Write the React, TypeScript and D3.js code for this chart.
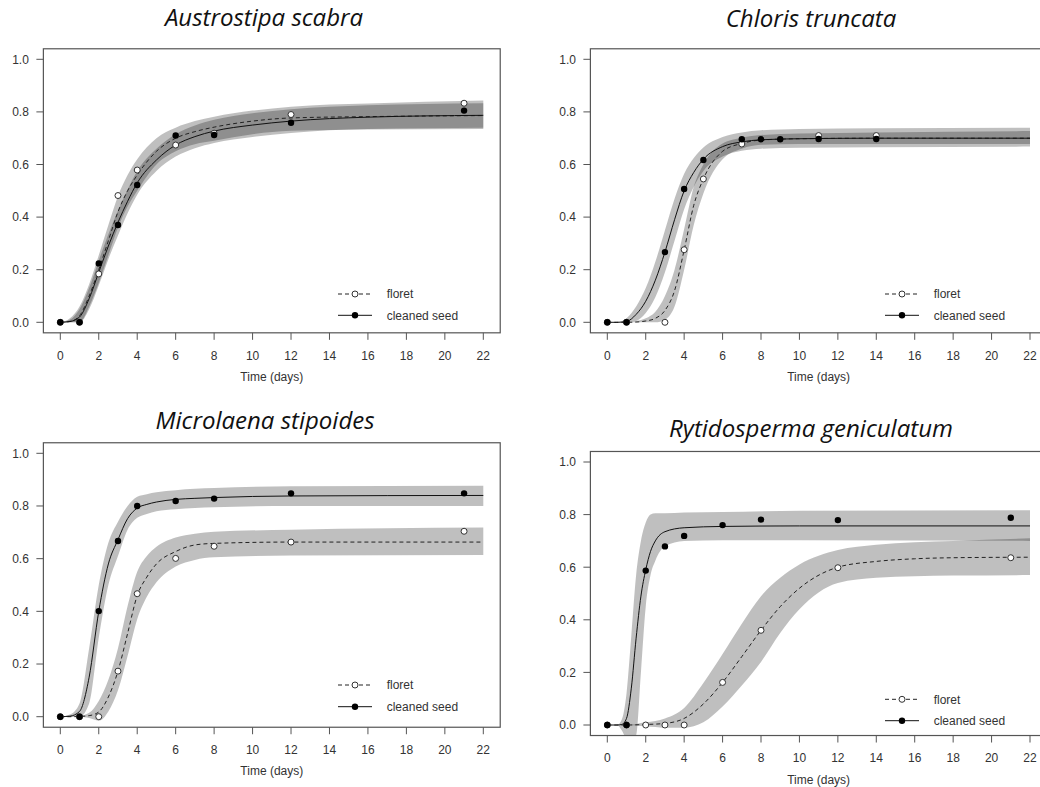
import * as d3 from 'd3';

const xTicks = [0, 2, 4, 6, 8, 10, 12, 14, 16, 18, 20, 22];
const yTicks = [0, 0.2, 0.4, 0.6, 0.8, 1.0];
const legendLabels = ['floret', 'cleaned seed'];

// Austrostipa scabra
const asObsDays = [0, 1, 2, 3, 4, 6, 8, 12, 21];
const asFloret = [0, 0, 0.184, 0.482, 0.579, 0.674, 0.719, 0.79, 0.833];
const asSeed = [0, 0, 0.224, 0.37, 0.522, 0.71, 0.712, 0.759, 0.805];
const asFitDays = [0, 0.5, 1, 1.5, 2, 2.5, 3, 3.5, 4, 5, 6, 7, 8, 10, 12, 16, 22];
const asSeedFit = [0, 0.003, 0.02, 0.09, 0.19, 0.29, 0.38, 0.46, 0.53, 0.617, 0.674, 0.706, 0.727, 0.75, 0.765, 0.78, 0.787];
const asSeedLo = [0, 0, 0, 0.05, 0.14, 0.24, 0.33, 0.415, 0.485, 0.575, 0.63, 0.662, 0.682, 0.705, 0.72, 0.735, 0.74];
const asSeedHi = [0, 0.01, 0.05, 0.13, 0.235, 0.335, 0.425, 0.505, 0.575, 0.66, 0.715, 0.748, 0.77, 0.795, 0.81, 0.825, 0.833];
const asFloretFit = [0, 0.003, 0.025, 0.1, 0.2, 0.31, 0.42, 0.5, 0.56, 0.65, 0.7, 0.725, 0.742, 0.765, 0.777, 0.782, 0.786];
const asFloretLo = [0, 0, 0, 0.06, 0.15, 0.255, 0.36, 0.44, 0.5, 0.6, 0.65, 0.677, 0.69, 0.715, 0.728, 0.733, 0.735];
const asFloretHi = [0, 0.015, 0.06, 0.145, 0.255, 0.37, 0.48, 0.56, 0.62, 0.7, 0.74, 0.765, 0.782, 0.805, 0.82, 0.832, 0.843];

// Chloris truncata
const ctFloretDays = [0, 1, 3, 4, 5, 7, 11, 14];
const ctFloret = [0, 0, 0, 0.276, 0.545, 0.678, 0.71, 0.71];
const ctSeedDays = [0, 1, 3, 4, 5, 7, 8, 9, 11, 14];
const ctSeed = [0, 0, 0.267, 0.507, 0.617, 0.696, 0.696, 0.696, 0.697, 0.697];
const ctFitDays = [0, 0.5, 1, 1.5, 2, 2.5, 3, 3.5, 4, 4.5, 5, 6, 7, 8, 10, 14, 22];
const ctSeedFit = [0, 0, 0.003, 0.03, 0.08, 0.16, 0.267, 0.39, 0.5, 0.57, 0.62, 0.668, 0.686, 0.694, 0.698, 0.7, 0.7];
const ctSeedLo = [0, 0, 0, 0.005, 0.035, 0.095, 0.19, 0.31, 0.43, 0.515, 0.575, 0.63, 0.652, 0.66, 0.664, 0.666, 0.668];
const ctSeedHi = [0, 0, 0.015, 0.06, 0.13, 0.23, 0.35, 0.47, 0.565, 0.625, 0.665, 0.705, 0.722, 0.73, 0.735, 0.738, 0.74];
const ctFloretFit = [0, 0, 0, 0.001, 0.005, 0.015, 0.045, 0.12, 0.275, 0.445, 0.545, 0.65, 0.68, 0.693, 0.698, 0.7, 0.7];
const ctFloretLo = [0, 0, 0, 0, 0, 0, 0.01, 0.06, 0.2, 0.37, 0.49, 0.62, 0.66, 0.675, 0.678, 0.678, 0.678];
const ctFloretHi = [0, 0, 0, 0.005, 0.015, 0.04, 0.1, 0.2, 0.355, 0.515, 0.6, 0.68, 0.702, 0.712, 0.718, 0.722, 0.727];

// Microlaena stipoides
const msObsDays = [0, 1, 2, 3, 4, 6, 8, 12, 21];
const msFloret = [0, 0, 0, 0.173, 0.467, 0.601, 0.647, 0.663, 0.704];
const msSeed = [0, 0, 0.401, 0.667, 0.8, 0.819, 0.828, 0.848, 0.848];
const msFitDays = [0, 0.5, 1, 1.5, 2, 2.5, 3, 3.5, 4, 4.5, 5, 6, 7, 8, 12, 22];
const msSeedFit = [0, 0.002, 0.02, 0.15, 0.4, 0.58, 0.672, 0.752, 0.792, 0.806, 0.815, 0.825, 0.829, 0.832, 0.838, 0.84];
const msSeedLo = [0, 0, 0, 0.05, 0.3, 0.5, 0.61, 0.71, 0.755, 0.77, 0.78, 0.788, 0.792, 0.795, 0.8, 0.8];
const msSeedHi = [0, 0.008, 0.05, 0.26, 0.5, 0.66, 0.74, 0.8, 0.835, 0.845, 0.852, 0.86, 0.865, 0.868, 0.875, 0.877];
const msFloretFit = [0, 0, 0.001, 0.004, 0.018, 0.075, 0.173, 0.316, 0.46, 0.53, 0.58, 0.627, 0.652, 0.658, 0.663, 0.663];
const msFloretLo = [0, 0, 0, -0.005, -0.015, 0.02, 0.1, 0.23, 0.37, 0.455, 0.51, 0.57, 0.595, 0.605, 0.612, 0.614];
const msFloretHi = [0, 0, 0.003, 0.015, 0.06, 0.14, 0.26, 0.42, 0.55, 0.61, 0.645, 0.68, 0.695, 0.702, 0.71, 0.718];

// Rytidosperma geniculatum
const rgObsDays = [0, 1, 2, 3, 4, 6, 8, 12, 21];
const rgFloret = [0, 0, 0, 0, 0, 0.162, 0.36, 0.598, 0.636];
const rgSeed = [0, 0, 0.587, 0.679, 0.719, 0.76, 0.781, 0.779, 0.788];
const rgSeedFitDays = [0, 0.5, 0.75, 1, 1.25, 1.5, 1.75, 2, 2.25, 2.5, 3, 4, 6, 10, 22];
const rgSeedFit = [0, 0, 0.002, 0.025, 0.14, 0.33, 0.49, 0.59, 0.66, 0.7, 0.735, 0.75, 0.755, 0.757, 0.757];
const rgSeedLo = [0, 0, -0.02, -0.05, -0.05, -0.04, 0.2, 0.45, 0.57, 0.625, 0.68, 0.7, 0.702, 0.702, 0.7];
const rgSeedHi = [0, 0, 0.02, 0.12, 0.34, 0.57, 0.7, 0.77, 0.8, 0.805, 0.805, 0.808, 0.81, 0.815, 0.817];
const rgFloretFitDays = [0, 1, 2, 3, 4, 5, 6, 7, 8, 9, 10, 12, 14, 16, 18, 22];
const rgFloretFit = [0, 0, 0.002, 0.006, 0.025, 0.08, 0.162, 0.26, 0.36, 0.45, 0.52, 0.6, 0.622, 0.632, 0.636, 0.638];
const rgFloretLo = [0, 0, -0.005, -0.01, -0.01, 0.01, 0.07, 0.15, 0.24, 0.35, 0.44, 0.54, 0.56, 0.566, 0.568, 0.57];
const rgFloretHi = [0, 0, 0.01, 0.025, 0.065, 0.16, 0.27, 0.385, 0.49, 0.56, 0.61, 0.665, 0.685, 0.695, 0.7, 0.71];

type Series = { days: number[]; values: number[]; fitDays: number[]; fit: number[]; lo: number[]; hi: number[] };

const panels = [
  {
    id: 'as', title: 'Austrostipa scabra', x0: 60.3, x22: 483.3, y0: 322.3, y1: 59.3,
    titleX: 264, titleY: 26, legendY: [294, 315.3],
    floret: { days: asObsDays, values: asFloret, fitDays: asFitDays, fit: asFloretFit, lo: asFloretLo, hi: asFloretHi },
    seed: { days: asObsDays, values: asSeed, fitDays: asFitDays, fit: asSeedFit, lo: asSeedLo, hi: asSeedHi },
  },
  {
    id: 'ct', title: 'Chloris truncata', x0: 607.3, x22: 1030, y0: 322.3, y1: 59.3,
    titleX: 811, titleY: 26.7, legendY: [294, 315.3],
    floret: { days: ctFloretDays, values: ctFloret, fitDays: ctFitDays, fit: ctFloretFit, lo: ctFloretLo, hi: ctFloretHi },
    seed: { days: ctSeedDays, values: ctSeed, fitDays: ctFitDays, fit: ctSeedFit, lo: ctSeedLo, hi: ctSeedHi },
  },
  {
    id: 'ms', title: 'Microlaena stipoides', x0: 60.3, x22: 483.3, y0: 716.7, y1: 453.3,
    titleX: 265, titleY: 429.3, legendY: [685, 706.7],
    floret: { days: msObsDays, values: msFloret, fitDays: msFitDays, fit: msFloretFit, lo: msFloretLo, hi: msFloretHi },
    seed: { days: msObsDays, values: msSeed, fitDays: msFitDays, fit: msSeedFit, lo: msSeedLo, hi: msSeedHi },
  },
  {
    id: 'rg', title: 'Rytidosperma geniculatum', x0: 607.3, x22: 1030, y0: 725, y1: 462,
    titleX: 811, titleY: 436.7, legendY: [699.3, 720.7],
    floret: { days: rgObsDays, values: rgFloret, fitDays: rgFloretFitDays, fit: rgFloretFit, lo: rgFloretLo, hi: rgFloretHi },
    seed: { days: rgObsDays, values: rgSeed, fitDays: rgSeedFitDays, fit: rgSeedFit, lo: rgSeedLo, hi: rgSeedHi },
  },
];

const axisFont = '"Liberation Sans", Arial, sans-serif';

function Panel({ p }: { p: (typeof panels)[number] }) {
  const x = d3.scaleLinear().domain([0, 22]).range([p.x0, p.x22]);
  const y = d3.scaleLinear().domain([0, 1]).range([p.y0, p.y1]);
  const left = x(-0.88);
  const right = x(22.88);
  const top = y(1.04);
  const bottom = y(-0.04);

  const band = (s: Series) =>
    d3.area<number>()
      .x((d) => x(d))
      .y0((_, i) => y(s.lo[i]))
      .y1((_, i) => y(s.hi[i]))
      .curve(d3.curveMonotoneX)(s.fitDays) ?? '';
  const fitLine = (s: Series) =>
    d3.line<number>()
      .x((d) => x(d))
      .y((_, i) => y(s.fit[i]))
      .curve(d3.curveMonotoneX)(s.fitDays) ?? '';

  const lx = p.x0 + 277.7;

  return (
    <g>
      <text x={p.titleX} y={p.titleY} textAnchor="middle" fontFamily="'Open Sans', Lato, sans-serif"
        fontStyle="italic" fontSize={24} fill="#111">{p.title}</text>
      <clipPath id={`clip-${p.id}`}>
        <rect x={left} y={top} width={right - left} height={bottom - top} />
      </clipPath>
      <g clipPath={`url(#clip-${p.id})`}>
        <path d={band(p.floret)} fill="#000" fillOpacity={0.25} />
        <path d={band(p.seed)} fill="#000" fillOpacity={0.25} />
        <path d={fitLine(p.floret)} fill="none" stroke="#222" strokeWidth={1} strokeDasharray="4 3" />
        <path d={fitLine(p.seed)} fill="none" stroke="#111" strokeWidth={1} />
        {p.floret.days.map((d, i) => (
          <circle key={`f${i}`} cx={x(d)} cy={y(p.floret.values[i])} r={3} fill="#fff" stroke="#333" strokeWidth={1} />
        ))}
        {p.seed.days.map((d, i) => (
          <circle key={`s${i}`} cx={x(d)} cy={y(p.seed.values[i])} r={3.2} fill="#000" />
        ))}
      </g>
      <rect x={left} y={top} width={right - left} height={bottom - top} fill="none" stroke="#555" strokeWidth={1.2} />
      {yTicks.map((t) => (
        <g key={t}>
          <line x1={left} x2={left - 7} y1={y(t)} y2={y(t)} stroke="#555" />
          <text x={left - 14.5} y={y(t) + 4.3} textAnchor="end" fontFamily={axisFont} fontSize={12} fill="#333">
            {t.toFixed(1)}
          </text>
        </g>
      ))}
      {xTicks.map((t) => (
        <g key={t}>
          <line x1={x(t)} x2={x(t)} y1={bottom} y2={bottom + 7} stroke="#555" />
          <text x={x(t)} y={bottom + 26.8} textAnchor="middle" fontFamily={axisFont} fontSize={12} fill="#333">
            {t}
          </text>
        </g>
      ))}
      <text x={(left + right) / 2} y={bottom + 48} textAnchor="middle"
        fontFamily={axisFont} fontSize={12} fill="#333">Time (days)</text>
      <g fontFamily={axisFont} fontSize={12} fill="#333">
        <line x1={lx} x2={lx + 34} y1={p.legendY[0]} y2={p.legendY[0]} stroke="#222" strokeDasharray="4 3" />
        <circle cx={lx + 17} cy={p.legendY[0]} r={3} fill="#fff" stroke="#333" />
        <text x={lx + 48.7} y={p.legendY[0] + 4.3}>{legendLabels[0]}</text>
        <line x1={lx} x2={lx + 34} y1={p.legendY[1]} y2={p.legendY[1]} stroke="#111" />
        <circle cx={lx + 17} cy={p.legendY[1]} r={3.2} fill="#000" />
        <text x={lx + 48.7} y={p.legendY[1] + 4.3}>{legendLabels[1]}</text>
      </g>
    </g>
  );
}

export default function App() {
  return (
    <svg width={1040} height={787} viewBox="0 0 1040 787"
      style={{ position: 'absolute', left: 0, top: 0, background: '#fff', display: 'block' }}>
      {panels.map((p) => (
        <Panel key={p.id} p={p} />
      ))}
    </svg>
  );
}
